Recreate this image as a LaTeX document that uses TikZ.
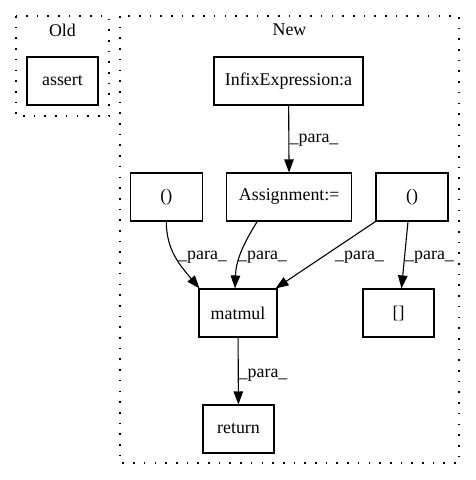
\documentclass[tikz,border=0pt]{standalone}
\usepackage{fontspec}
\setmainfont{Liberation Serif}
\usetikzlibrary{arrows.meta}

\begin{document}
\begin{tikzpicture}[x=1pt,y=1pt,yscale=-1,xscale=1,
		box/.style={draw,line width=1.1pt,inner sep=0pt,minimum height=48pt,font=\fontsize{17.9}{20}\selectfont},
		lbl/.style={inner sep=0pt,font=\fontsize{17.9}{20}\selectfont},
		cluster/.style={line width=1.3pt,dash pattern=on 1.6pt off 9.1pt},
		edge/.style={line width=1.1pt,-{Triangle[length=13pt,width=9.5pt]}}]
		\useasboundingbox (0,0) rectangle (475,480);
		
		%Shape: Clusters
		\draw [cluster] (16,16) rectangle (109,116);
		\draw [cluster] (120,16) rectangle (459,463);
		
		% Text Node
		\node [lbl] (old) at (62.5,30) {Old};
		% Text Node
		\node [lbl] (new) at (289.5,30) {New};
		
		% Boxes
		\node [box,minimum width=71pt] (assert) at (62.5,81) {assert};
		\node [box,minimum width=149pt] (infix) at (288.5,81) {InfixExpression:a};
		\node [box,minimum width=125pt] (assign) at (289.2,197) {Assignment:=};
		\node [box,minimum width=72pt] (lpar) at (166.3,197) {()};
		\node [box,minimum width=72pt] (rpar) at (412,197) {()};
		\node [box,minimum width=78pt] (matmul) at (238,313) {matmul};
		\node [box,minimum width=71pt] (brack) at (398.5,313) {[]};
		\node [box,minimum width=71pt] (ret) at (238.5,429) {return};
		
		% Edges
		\draw [edge] (infix) -- (assign);
		\draw [edge] (lpar.south) to[out=90,in=-130] ([xshift=1pt]matmul.north west);
		\draw [edge] ([xshift=-32pt]assign.south) to[out=122,in=-88] ([xshift=-3pt]matmul.north);
		\draw [edge] (rpar.south west) -- ([xshift=-2pt]matmul.north east);
		\draw [edge] ([xshift=-4pt]rpar.south) -- ([xshift=3pt]brack.north);
		\draw [edge] (matmul) -- (ret);
		
		% Text Node
		\node [lbl,anchor=west] (p1) at (289.5,140) {\_para\_};
		% Text Node
		\node [lbl,anchor=west] (p2) at (178,257) {\_para\_};
		% Text Node
		\node [lbl,anchor=west] (p3) at (238,257) {\_para\_};
		% Text Node
		\node [lbl,anchor=west] (p4) at (335,257) {\_para\_};
		% Text Node
		\node [lbl,anchor=west] (p5) at (405,257) {\_para\_};
		% Text Node
		\node [lbl,anchor=west] (p6) at (238.5,375) {\_para\_};
		
\end{tikzpicture}
\end{document}
